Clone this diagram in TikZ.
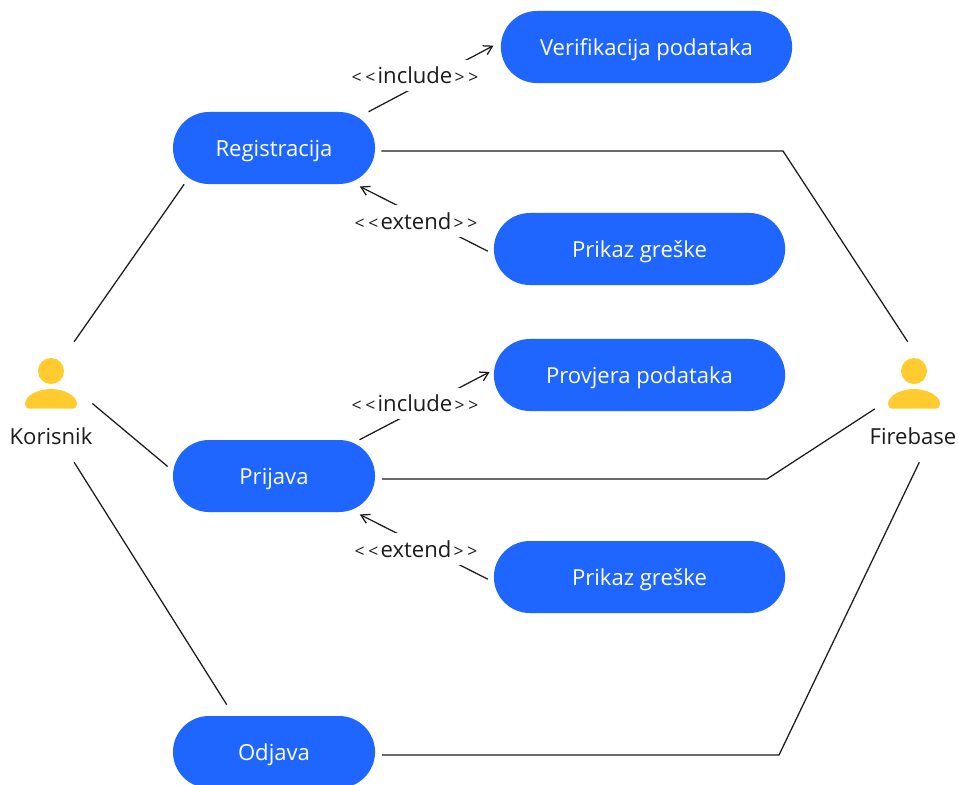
\documentclass[tikz,border=0pt]{standalone}
\usepackage{fontspec}
\setmainfont{Open Sans}
\usetikzlibrary{arrows.meta}
\definecolor{pillblue}{HTML}{1F65FF}
\definecolor{actoryellow}{HTML}{FFCB2F}
\definecolor{inkdark}{HTML}{1C1C1C}
\tikzset{
	labelfont/.style={font=\fontsize{15.7}{18}\selectfont, text height=14.4pt, text depth=3pt},
	usecase/.style={labelfont, fill=pillblue, text=white, rounded corners=0.9cm, minimum width=#1, minimum height=1.8cm, inner sep=0pt},
	usecase/.default=5.05cm,
	actorbox/.style={minimum height=3cm, inner sep=0pt},
	actorname/.style={labelfont, text=inkdark, inner sep=0pt},
	stereotype/.style={labelfont, fill=white, text=inkdark, minimum width=3.1cm, minimum height=0.78cm, inner sep=0pt},
	link/.style={draw=inkdark, line width=0.9pt},
	dependency/.style={link, -{Straight Barb[length=6pt, width=7pt]}}
}
\newcommand{\spacedopen}{{\fontsize{12.5}{18}\selectfont <\kern2.6pt<}\kern1.6pt}
\newcommand{\spacedclose}{\kern1.6pt{\fontsize{12.5}{18}\selectfont >\kern2.6pt>}}
\begin{document}
\begin{tikzpicture}[x=0.025cm, y=-0.025cm]
		\useasboundingbox (0,0) rectangle (958,784);
		% actors
		\foreach \cx/\who/\boxw in {51/korisnik/2.05cm, 914/firebase/1.95cm} {
			\fill[actoryellow] (\cx,371) circle [radius=13];
			\fill[actoryellow] (\cx-26,404) .. controls (\cx-26,395) and (\cx-12,389) .. (\cx,389) .. controls (\cx+12,389) and (\cx+26,395) .. (\cx+26,404) .. controls (\cx+26,407) and (\cx+24,408.5) .. (\cx+22,408.5) -- (\cx-22,408.5) .. controls (\cx-24,408.5) and (\cx-26,407) .. cycle;
			\node[actorbox, minimum width=\boxw] (\who) at (\cx,402) {};
		}
		\node[actorname] (korisnikname) at (51,436.5) {Korisnik};
		\node[actorname] (firebasename) at (913,436.5) {Firebase};
		% use cases
		\node[usecase] (registracija) at (274,148) {Registracija};
		\node[usecase] (prijava) at (274,476) {Prijava};
		\node[usecase] (odjava) at (274,752) {Odjava};
		\node[usecase=7.28cm] (verifikacija) at (646.5,47) {Verifikacija podataka};
		\node[usecase=7.28cm] (greskaA) at (639.5,249) {Prikaz greške};
		\node[usecase=7.28cm] (provjera) at (639.5,375) {Provjera podataka};
		\node[usecase=7.28cm] (greskaB) at (639.5,577) {Prikaz greške};
		% elbows on the way to firebase
		\coordinate (elbowA) at (783,151);
		\coordinate (elbowB) at (767,479);
		\coordinate (elbowC) at (779,755);
		% plain associations
		\draw[link] (korisnik.69) -- (registracija.202.1);
		\draw[link, shorten >=0.165cm] (korisnik.-2) -- (prijava.177.7);
		\draw[link, shorten >=0.325cm] (korisnik.-69) -- (odjava.138.7);
		\draw[link, shorten <=0.15cm] ([yshift=-0.075cm]registracija.east) -- (elbowA) -- (firebase.96.7);
		\draw[link, shorten <=0.17cm] ([yshift=-0.075cm]prijava.east) -- (elbowB) -- (firebase.190);
		\draw[link, shorten <=0.17cm] ([yshift=-0.075cm]odjava.east) -- (elbowC) -- (firebase.275.7);
		% dependencies, labels go on top of them
		\draw[dependency, shorten >=0.2cm] (registracija.21.8) -- (verifikacija.178.2);
		\draw[dependency, shorten <=0.16cm, shorten >=0.12cm] (greskaA.182.8) -- (registracija.-24.2);
		\draw[dependency, shorten >=0.11cm] (prijava.23.3) -- (provjera.178.4);
		\draw[dependency, shorten <=0.16cm, shorten >=0.12cm] (greskaB.182.8) -- (prijava.-24.2);
		\node[stereotype] (includeA) at (415,75.5) {\spacedopen include\spacedclose};
		\node[stereotype] (extendA) at (416,221) {\spacedopen extend\spacedclose};
		\node[stereotype] (includeB) at (415,403.5) {\spacedopen include\spacedclose};
		\node[stereotype] (extendB) at (416,549) {\spacedopen extend\spacedclose};
\end{tikzpicture}
\end{document}
